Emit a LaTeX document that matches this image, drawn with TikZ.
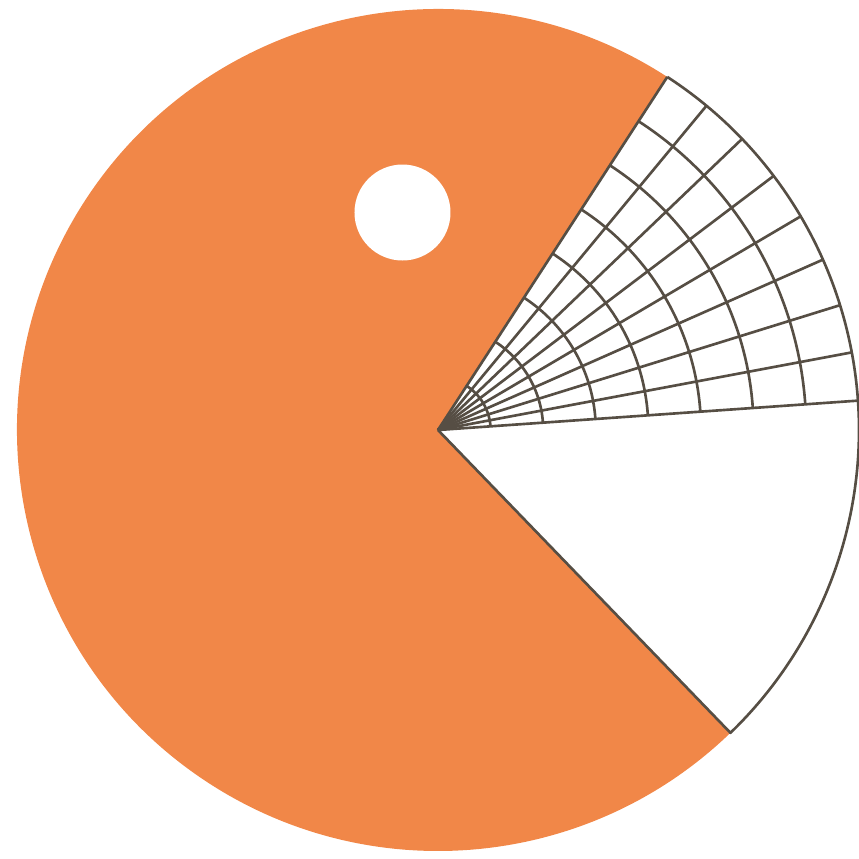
\documentclass[tikz,border=0pt]{standalone}
\usetikzlibrary{calc}
\definecolor{peel}{RGB}{241,135,72}
\definecolor{ink}{RGB}{86,78,68}
\tikzset{web/.style={draw=ink,line width=0.75pt},rim/.style={draw=ink,line width=0.75pt,line join=round}}

\begin{document}
\begin{tikzpicture}[x=0.01cm,y=0.01cm]
\useasboundingbox (-438,-429) rectangle (421,430);
\coordinate (hub) at (0,0);
\fill[peel] (hub) -- (57:421) arc[start angle=57,end angle=314,radius=421] -- cycle;
\fill[white] (-35.5,217.5) circle[radius=48];
% grid in the mouth
\foreach \k in {1,...,7}
  \draw[web] (4:\k*52.6) arc[start angle=4,end angle=57,radius=\k*52.6];
\foreach \i in {0,...,8}
  \draw[web] (hub) -- ({4+\i*6.625}:421);
\draw[rim] (hub) -- (-46:421) arc[start angle=-46,end angle=57,radius=421];
\end{tikzpicture}
\end{document}
